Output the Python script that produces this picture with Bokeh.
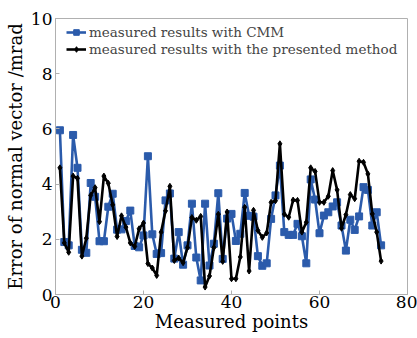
from bokeh.plotting import figure
from bokeh.models import Range1d, FixedTicker, Legend, LegendItem
from bokeh.embed import file_html
from bokeh.resources import INLINE

points = list(range(1, 75))
cmm = [5.95, 1.90, 1.78, 5.78, 4.59, 1.62, 1.51, 4.04, 3.54, 1.93,
       1.93, 3.18, 3.65, 2.35, 2.36, 2.66, 3.04, 1.76, 1.71, 2.14,
       5.01, 2.18, 1.47, 1.50, 3.41, 3.66, 1.30, 2.26, 1.08, 1.78,
       3.29, 1.34, 0.51, 3.29, 1.05, 1.84, 3.67, 1.29, 2.75, 2.92,
       1.94, 2.20, 3.68, 2.85, 2.82, 1.39, 1.04, 1.13, 2.74, 3.59,
       4.67, 2.26, 2.16, 2.16, 2.56, 2.11, 1.13, 4.17, 3.44, 2.22,
       2.86, 2.98, 3.19, 3.34, 2.50, 1.59, 2.71, 2.34, 2.83, 3.89,
       3.79, 2.50, 2.98, 1.78]
presented = [4.59, 1.87, 1.53, 4.29, 4.21, 1.39, 2.04, 3.59, 3.87, 2.64,
             4.29, 4.03, 3.25, 2.10, 2.85, 2.44, 1.87, 1.74, 2.38, 2.59,
             1.12, 0.96, 0.69, 2.26, 3.03, 3.92, 1.23, 1.32, 1.15, 1.70,
             2.79, 2.69, 2.83, 0.27, 0.67, 1.70, 2.91, 1.20, 2.99, 0.57,
             0.57, 1.36, 3.16, 0.85, 3.05, 2.32, 2.07, 2.23, 3.34, 3.40,
             5.46, 2.91, 2.80, 3.42, 3.41, 2.26, 2.62, 4.59, 4.46, 3.34,
             3.34, 3.56, 4.49, 3.79, 2.40, 2.89, 3.62, 3.47, 4.83, 4.79,
             4.37, 2.92, 2.26, 1.21]
x_ticks = [0, 20, 40, 60, 80]
y_ticks = [0, 2, 4, 6, 8, 10]
label_cmm = "measured results with CMM"
label_presented = "measured results with the presented method"

FONT = "DejaVu Serif"
BLUE = "#2b5bab"
GRAY = "#b0b0b0"

p = figure(frame_width=352, frame_height=276, output_backend="svg", toolbar_location=None,
           x_range=Range1d(0, 80), y_range=Range1d(0, 10),
           min_border_left=55, min_border_right=10, min_border_top=18, min_border_bottom=40)
p.background_fill_color = "white"
p.border_fill_color = "white"
p.outline_line_color = GRAY
p.outline_line_width = 1
p.xgrid.visible = False
p.ygrid.visible = False

for ax in (p.xaxis[0], p.yaxis[0]):
    ax.axis_line_color = GRAY
    ax.major_tick_line_color = GRAY
    ax.major_tick_in = 4
    ax.major_tick_out = 0
    ax.minor_tick_line_color = None
    ax.major_label_text_font = FONT
    ax.major_label_text_font_size = "17px"
    ax.major_label_text_color = "black"
    ax.axis_label_text_font = FONT
    ax.axis_label_text_font_style = "normal"
    ax.axis_label_text_color = "black"

p.xaxis.ticker = FixedTicker(ticks=x_ticks)
p.yaxis.ticker = FixedTicker(ticks=y_ticks)
p.xaxis.axis_label = "Measured points"
p.yaxis.axis_label = "Error of normal vector /mrad"
p.xaxis.axis_label_text_font_size = "18px"
p.yaxis.axis_label_text_font_size = "18px"
p.xaxis.major_label_standoff = 1
p.yaxis.major_label_standoff = 3
p.xaxis.axis_label_standoff = 0
p.yaxis.axis_label_standoff = 2

l1 = p.line(points, cmm, line_color=BLUE, line_width=2.6)
s1 = p.scatter(points, cmm, marker="square", size=7, fill_color=BLUE, line_color=BLUE)
l2 = p.line(points, presented, line_color="black", line_width=2.6)
s2 = p.scatter(points, presented, marker="diamond", size=6, fill_color="black", line_color="black")

legend = Legend(items=[LegendItem(label=label_cmm, renderers=[l1, s1]),
                       LegendItem(label=label_presented, renderers=[l2, s2])],
                location=(11, 237))
legend.label_text_font = FONT
legend.label_text_font_size = "13.5px"
legend.border_line_color = None
legend.background_fill_alpha = 0
legend.glyph_width = 20
legend.glyph_height = 14
legend.label_standoff = 3
legend.spacing = 1
legend.padding = 2
legend.margin = 0
legend.label_height = 14
p.add_layout(legend)

open("out.html", "w").write(file_html(p, INLINE))
